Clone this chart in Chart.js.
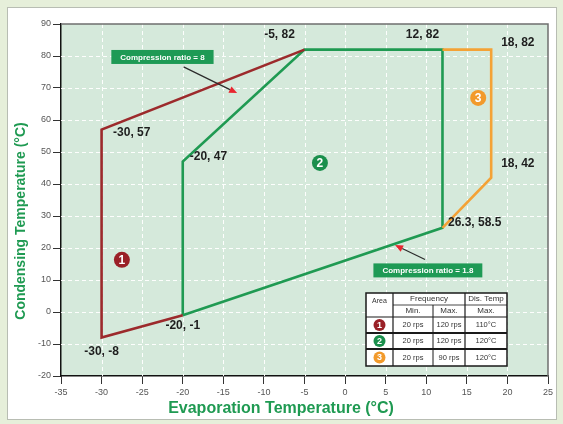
<!DOCTYPE html>
<html>
<head>
<meta charset="utf-8">
<script src="https://cdn.jsdelivr.net/npm/chart.js@4.4.1/dist/chart.umd.min.js"></script>
<style>
  html, body { margin: 0; padding: 0; background: #e6efda; }
  canvas { display: block; }
</style>
</head>
<body>
<canvas id="envelope" width="563" height="424"></canvas>
<script>
// ---- Operating envelope: evaporation (x) vs condensing (y) temperature, °C ----
const area1Evap = [-5, -30, -30, -20];
const area1Cond = [82, 57, -8, -1];
const area2Evap = [-20, -20, -5, 12, 12, -20];
const area2Cond = [-1, 47, 82, 82, 26.3, -1];
const area3Evap = [12, 18, 18, 12];
const area3Cond = [82, 82, 42, 26.3];

// Axis tick values
const xTickValues = [-35, -30, -25, -20, -15, -10, -5, 0, 5, 10, 15, 20, 25];
const yTickValues = [-20, -10, 0, 10, 20, 30, 40, 50, 60, 70, 80, 90];

// Corner callouts
const cornerTexts = ['-5, 82', '12, 82', '18, 82', '18, 42', '26.3, 58.5', '-30, 57', '-20, 47', '-20, -1', '-30, -8'];
const cornerEvap  = [-5, 12, 18, 18, 12, -30, -20, -20, -30];
const cornerCond  = [82, 82, 82, 42, 26.3, 57, 47, -1, -8];

// Area numbers
const areaNames = ['1', '2', '3'];

// Compression ratio notes
const ratioTexts = ['Compression ratio = 8', 'Compression ratio = 1.8'];

// Frequency / discharge temperature table
const tableFreqMin = ['20 rps', '20 rps', '20 rps'];
const tableFreqMax = ['120 rps', '120 rps', '90 rps'];
const tableDisTemp = ['110°C', '120°C', '120°C'];

// ---- styling ----
const RED = '#9c2a2c', GREEN = '#1f9a52', ORANGE = '#f4a236';
const areaColors = [RED, GREEN, ORANGE];
const markerColors = ['#9a2027', '#1a8f4c', '#f29a2b'];
const FONT = '"Liberation Sans", Arial, sans-serif';

// label offsets in px from the vertex: [dx, dy, align]
const cornerOffsets = [
  [-25, -15, 'center'], [-20, -15, 'center'], [10, -7, 'left'], [10, -14, 'left'],
  [5.5, -5, 'left'], [11.5, 3.5, 'left'], [7, -4.5, 'left'], [0, 10, 'center'], [0, 14, 'center']
];
// area number markers (data coordinates)
const markerAt = [[-27.5, 16.3], [-3.1, 46.6], [16.4, 66.9]];
// compression ratio boxes: centre, arrow tail, arrow head (data coordinates)
const ratioNotes = [
  { c: [-22.5, 79.7], tail: [-19.9, 76.6], head: [-13.3, 68.4] },
  { c: [10.2, 13.0], tail: [9.85, 16.4], head: [6.15, 20.9] }
];

function toPoints(xs, ys) { return xs.map((x, i) => ({ x: x, y: ys[i] })); }

const backdrop = {
  id: 'backdrop',
  beforeDraw(chart) {
    const { ctx, chartArea: a } = chart;
    ctx.save();
    ctx.fillStyle = '#e6efda';
    ctx.fillRect(0, 0, chart.width, chart.height);
    ctx.fillStyle = '#ffffff';
    ctx.fillRect(7.5, 7.5, 549, 412);
    ctx.strokeStyle = '#b8bdb3';
    ctx.lineWidth = 1;
    ctx.strokeRect(7.5, 7.5, 549, 412);
    ctx.fillStyle = '#d5e9db';
    ctx.fillRect(a.left, a.top, a.right - a.left, a.bottom - a.top);
    ctx.restore();
  },
  beforeDatasetsDraw(chart) {
    const { ctx, chartArea: a, scales: { x, y } } = chart;
    ctx.save();
    ctx.strokeStyle = 'rgba(255,255,255,0.95)';
    ctx.lineWidth = 1;
    ctx.setLineDash([4, 3]);
    xTickValues.slice(1, -1).forEach(v => {
      const px = Math.round(x.getPixelForValue(v)) + 0.5;
      ctx.beginPath(); ctx.moveTo(px, a.top); ctx.lineTo(px, a.bottom); ctx.stroke();
    });
    yTickValues.slice(1, -1).forEach(v => {
      const py = Math.round(y.getPixelForValue(v)) + 0.5;
      ctx.beginPath(); ctx.moveTo(a.left, py); ctx.lineTo(a.right, py); ctx.stroke();
    });
    ctx.setLineDash([]);
    // top and right frame
    ctx.strokeStyle = '#6f6f6f';
    ctx.lineWidth = 1.5;
    ctx.beginPath();
    ctx.moveTo(a.left, a.top); ctx.lineTo(a.right, a.top); ctx.lineTo(a.right, a.bottom);
    ctx.stroke();
    ctx.restore();
  }
};

function circleNum(ctx, cx, cy, r, color, text, fontPx) {
  ctx.beginPath();
  ctx.arc(cx, cy, r, 0, Math.PI * 2);
  ctx.fillStyle = color;
  ctx.fill();
  ctx.fillStyle = '#ffffff';
  ctx.font = 'bold ' + fontPx + 'px ' + FONT;
  ctx.textAlign = 'center';
  ctx.textBaseline = 'middle';
  ctx.fillText(text, cx, cy + 0.5);
}

const annotations = {
  id: 'annotations',
  afterDatasetsDraw(chart) {
    const { ctx, chartArea: a, scales: { x, y } } = chart;
    ctx.save();

    // corner callouts
    ctx.fillStyle = '#1e1e1e';
    ctx.font = 'bold 12px ' + FONT;
    ctx.textBaseline = 'middle';
    cornerTexts.forEach((t, i) => {
      const o = cornerOffsets[i];
      ctx.textAlign = o[2];
      ctx.fillText(t, x.getPixelForValue(cornerEvap[i]) + o[0], y.getPixelForValue(cornerCond[i]) + o[1]);
    });

    // area numbers
    areaNames.forEach((n, i) => {
      circleNum(ctx, x.getPixelForValue(markerAt[i][0]), y.getPixelForValue(markerAt[i][1]), 8, markerColors[i], n, 12);
    });

    // compression ratio notes with arrows
    ratioNotes.forEach((r, i) => {
      const tx = x.getPixelForValue(r.tail[0]), ty = y.getPixelForValue(r.tail[1]);
      const hx = x.getPixelForValue(r.head[0]), hy = y.getPixelForValue(r.head[1]);
      const ang = Math.atan2(hy - ty, hx - tx);
      const L = 8, W = 3.5;
      const bx = hx - L * Math.cos(ang), by = hy - L * Math.sin(ang);
      ctx.strokeStyle = '#2b2b2b';
      ctx.lineWidth = 1.2;
      ctx.beginPath(); ctx.moveTo(tx, ty); ctx.lineTo(bx, by); ctx.stroke();
      ctx.fillStyle = '#e8262f';
      ctx.beginPath();
      ctx.moveTo(hx, hy);
      ctx.lineTo(bx + W * Math.sin(ang), by - W * Math.cos(ang));
      ctx.lineTo(bx - W * Math.sin(ang), by + W * Math.cos(ang));
      ctx.closePath(); ctx.fill();

      ctx.font = 'bold 8px ' + FONT;
      const w = ctx.measureText(ratioTexts[i]).width + 18, h = 14;
      const cx = x.getPixelForValue(r.c[0]), cy = y.getPixelForValue(r.c[1]);
      ctx.fillStyle = '#1e9a55';
      ctx.fillRect(cx - w / 2, cy - h / 2, w, h);
      ctx.fillStyle = '#ffffff';
      ctx.textAlign = 'center';
      ctx.textBaseline = 'middle';
      ctx.fillText(ratioTexts[i], cx, cy + 0.5);
    });

    // table
    const cw = [27, 40, 32, 42];
    const rh = [12, 12, 16, 16, 17];
    const W = cw.reduce((s, v) => s + v, 0), H = rh.reduce((s, v) => s + v, 0);
    const tx0 = a.right - 41 - W, ty0 = a.bottom - 10 - H;
    const colX = [tx0]; cw.forEach(v => colX.push(colX[colX.length - 1] + v));
    const rowY = [ty0]; rh.forEach(v => rowY.push(rowY[rowY.length - 1] + v));
    ctx.fillStyle = '#ffffff';
    ctx.fillRect(tx0, ty0, W, H);
    ctx.strokeStyle = '#1a1a1a';
    const hline = (yy, x1, x2, lw) => { ctx.lineWidth = lw; ctx.beginPath(); ctx.moveTo(x1, yy); ctx.lineTo(x2, yy); ctx.stroke(); };
    const vline = (xx, y1, y2, lw) => { ctx.lineWidth = lw; ctx.beginPath(); ctx.moveTo(xx, y1); ctx.lineTo(xx, y2); ctx.stroke(); };
    hline(rowY[1], colX[1], colX[4], 0.8);
    hline(rowY[2], tx0, colX[4], 1.2);
    hline(rowY[3], tx0, colX[4], 2);
    hline(rowY[4], tx0, colX[4], 2);
    vline(colX[1], ty0, rowY[5], 1.2);
    vline(colX[2], rowY[1], rowY[5], 1);
    vline(colX[3], ty0, rowY[5], 1.2);
    ctx.lineWidth = 1.5;
    ctx.strokeRect(tx0, ty0, W, H);

    ctx.fillStyle = '#333333';
    ctx.textAlign = 'center';
    ctx.textBaseline = 'middle';
    ctx.font = '7px ' + FONT;
    ctx.fillText('Area', (colX[0] + colX[1]) / 2, rowY[0] + 8);
    ctx.font = '8px ' + FONT;
    ctx.fillText('Frequency', (colX[1] + colX[3]) / 2, (rowY[0] + rowY[1]) / 2);
    ctx.fillText('Dis. Temp', (colX[3] + colX[4]) / 2, (rowY[0] + rowY[1]) / 2);
    ctx.fillText('Min.', (colX[1] + colX[2]) / 2, (rowY[1] + rowY[2]) / 2);
    ctx.fillText('Max.', (colX[2] + colX[3]) / 2, (rowY[1] + rowY[2]) / 2);
    ctx.fillText('Max.', (colX[3] + colX[4]) / 2, (rowY[1] + rowY[2]) / 2);
    for (let i = 0; i < 3; i++) {
      const cy = (rowY[2 + i] + rowY[3 + i]) / 2;
      circleNum(ctx, (colX[0] + colX[1]) / 2, cy, 6, markerColors[i], areaNames[i], 9);
      ctx.fillStyle = '#333333';
      ctx.font = '7.5px ' + FONT;
      ctx.fillText(tableFreqMin[i], (colX[1] + colX[2]) / 2, cy);
      ctx.fillText(tableFreqMax[i], (colX[2] + colX[3]) / 2, cy);
      ctx.fillText(tableDisTemp[i], (colX[3] + colX[4]) / 2, cy);
    }
    ctx.restore();
  },
  afterDraw(chart) {
    const { ctx } = chart;
    ctx.save();
    ctx.fillStyle = GREEN;
    ctx.textAlign = 'center';
    ctx.textBaseline = 'middle';
    ctx.font = 'bold 16px ' + FONT;
    ctx.fillText('Evaporation Temperature (°C)', 281, 409);
    ctx.translate(21, 221);
    ctx.rotate(-Math.PI / 2);
    ctx.font = 'bold 14px ' + FONT;
    ctx.fillText('Condensing Temperature (°C)', 0, 0);
    ctx.restore();
  }
};

const lineStyle = (color) => ({
  showLine: true, borderColor: color, backgroundColor: color, borderWidth: 2.6,
  pointRadius: 0, fill: false, tension: 0, borderJoinStyle: 'miter'
});

new Chart(document.getElementById('envelope'), {
  type: 'scatter',
  data: {
    datasets: [
      Object.assign({ label: 'Area 1', data: toPoints(area1Evap, area1Cond) }, lineStyle(areaColors[0])),
      Object.assign({ label: 'Area 3', data: toPoints(area3Evap, area3Cond) }, lineStyle(areaColors[2])),
      Object.assign({ label: 'Area 2', data: toPoints(area2Evap, area2Cond) }, lineStyle(areaColors[1]))
    ]
  },
  options: {
    responsive: false,
    animation: false,
    layout: { padding: { left: 0, right: 15, top: 24, bottom: 0 } },
    plugins: { legend: { display: false }, tooltip: { enabled: false } },
    scales: {
      x: {
        type: 'linear', min: -35, max: 25,
        afterBuildTicks: s => { s.ticks = xTickValues.map(v => ({ value: v })); },
        afterFit: s => { s.height = 48; },
        grid: { drawOnChartArea: false, tickLength: 8, tickColor: '#333', tickWidth: 1 },
        border: { color: '#111', width: 1.5 },
        ticks: { color: '#555', font: { family: FONT, size: 9 }, padding: 3, maxRotation: 0 }
      },
      y: {
        type: 'linear', min: -20, max: 90,
        afterBuildTicks: s => { s.ticks = yTickValues.map(v => ({ value: v })); },
        afterFit: s => { s.width = 61; },
        grid: { drawOnChartArea: false, tickLength: 8, tickColor: '#333', tickWidth: 1 },
        border: { color: '#111', width: 1.5 },
        ticks: { color: '#555', font: { family: FONT, size: 9 }, padding: 2 }
      }
    }
  },
  plugins: [backdrop, annotations]
});
</script>
</body>
</html>
